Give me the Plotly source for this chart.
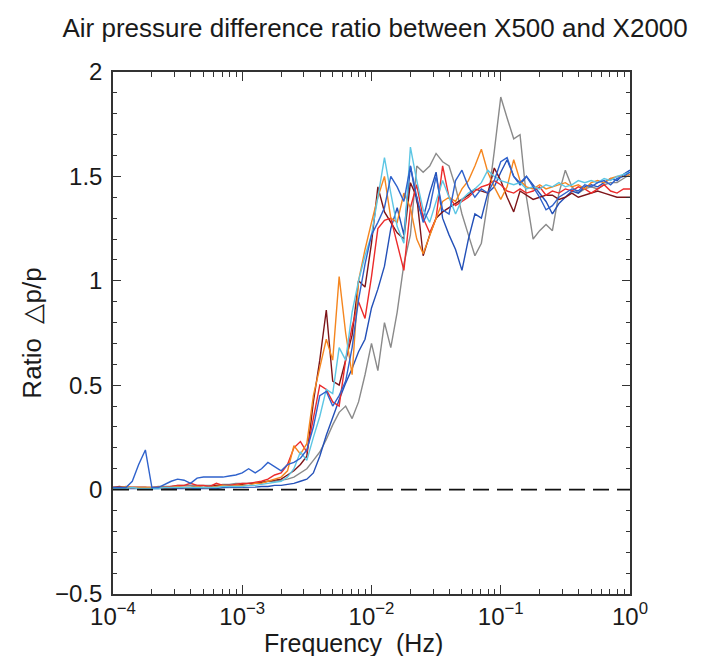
import plotly.graph_objects as go

#-----------------------------------------------------------------------
# data (frequency grid every 0.05 decade)
#-----------------------------------------------------------------------
FREQ = [
    1.00e-4, 1.12e-4, 1.26e-4, 1.41e-4, 1.58e-4, 1.78e-4, 2.00e-4, 2.24e-4, 2.51e-4, 2.82e-4,
    3.16e-4, 3.55e-4, 3.98e-4, 4.47e-4, 5.01e-4, 5.62e-4, 6.31e-4, 7.08e-4, 7.94e-4, 8.91e-4,
    1.00e-3, 1.12e-3, 1.26e-3, 1.41e-3, 1.58e-3, 1.78e-3, 2.00e-3, 2.24e-3, 2.51e-3, 2.82e-3,
    3.16e-3, 3.55e-3, 3.98e-3, 4.47e-3, 5.01e-3, 5.62e-3, 6.31e-3, 7.08e-3, 7.94e-3, 8.91e-3,
    1.00e-2, 1.12e-2, 1.26e-2, 1.41e-2, 1.58e-2, 1.78e-2, 2.00e-2, 2.24e-2, 2.51e-2, 2.82e-2,
    3.16e-2, 3.55e-2, 3.98e-2, 4.47e-2, 5.01e-2, 5.62e-2, 6.31e-2, 7.08e-2, 7.94e-2, 8.91e-2,
    1.00e-1, 1.12e-1, 1.26e-1, 1.41e-1, 1.58e-1, 1.78e-1, 2.00e-1, 2.24e-1, 2.51e-1, 2.82e-1,
    3.16e-1, 3.55e-1, 3.98e-1, 4.47e-1, 5.01e-1, 5.62e-1, 6.31e-1, 7.08e-1, 7.94e-1, 8.91e-1,
    1.00,
]

GRAY = [
    0.01, 0.01, 0.01, 0.01, 0.01, 0.01, 0.01, 0.015, 0.015, 0.015,
    0.02, 0.02, 0.02, 0.02, 0.02, 0.02, 0.02, 0.025, 0.025, 0.03,
    0.03, 0.03, 0.03, 0.035, 0.04, 0.04, 0.045, 0.05, 0.06, 0.08,
    0.10, 0.14, 0.18, 0.24, 0.31, 0.37, 0.40, 0.34, 0.42, 0.55,
    0.70, 0.57, 0.80, 0.68, 0.85, 1.08, 1.22, 1.55, 1.52, 1.55,
    1.61, 1.57, 1.55, 1.45, 1.32, 1.22, 1.12, 1.18, 1.38, 1.62,
    1.88, 1.78, 1.68, 1.70, 1.40, 1.20, 1.24, 1.27, 1.24, 1.42,
    1.53, 1.45, 1.42, 1.44, 1.45, 1.44, 1.46, 1.47, 1.47, 1.49,
    1.51,
]

DARK_RED = [
    0.01, 0.015, 0.01, 0.01, 0.01, 0.01, 0.005, 0.01, 0.01, 0.01,
    0.01, 0.01, 0.01, 0.015, 0.01, 0.015, 0.02, 0.02, 0.02, 0.02,
    0.025, 0.03, 0.03, 0.035, 0.04, 0.045, 0.05, 0.07, 0.09, 0.12,
    0.16, 0.42, 0.62, 0.86, 0.52, 0.50, 0.62, 0.74, 1.00, 0.97,
    1.18, 1.45, 1.33, 1.28, 1.23, 1.20, 1.47, 1.40, 1.12, 1.22,
    1.30, 1.33, 1.35, 1.37, 1.39, 1.41, 1.44, 1.43, 1.42, 1.54,
    1.48, 1.40, 1.33, 1.43, 1.41, 1.39, 1.40, 1.41, 1.41, 1.39,
    1.40, 1.42, 1.40, 1.41, 1.42, 1.43, 1.42, 1.41, 1.40, 1.40,
    1.40,
]

RED = [
    0.01, 0.01, 0.01, 0.01, 0.01, 0.01, 0.01, 0.01, 0.01, 0.015,
    0.02, 0.02, 0.03, 0.02, 0.02, 0.015, 0.03, 0.02, 0.02, 0.025,
    0.03, 0.03, 0.035, 0.04, 0.05, 0.07, 0.08, 0.12, 0.20, 0.23,
    0.18, 0.35, 0.50, 0.48, 0.42, 0.40, 0.62, 0.78, 0.90, 0.82,
    1.02, 1.25, 1.29, 1.30, 1.18, 1.05, 1.35, 1.46, 1.30, 1.23,
    1.30, 1.55, 1.40, 1.36, 1.38, 1.40, 1.43, 1.45, 1.46, 1.48,
    1.46, 1.43, 1.42, 1.44, 1.42, 1.43, 1.45, 1.41, 1.43, 1.42,
    1.44, 1.43, 1.45, 1.44, 1.42, 1.44, 1.46, 1.43, 1.42, 1.44,
    1.44,
]

ORANGE = [
    0.01, 0.01, 0.015, 0.01, 0.01, 0.01, 0.01, 0.01, 0.01, 0.01,
    0.015, 0.01, 0.01, 0.015, 0.01, 0.01, 0.015, 0.02, 0.015, 0.02,
    0.02, 0.02, 0.03, 0.03, 0.04, 0.05, 0.06, 0.09, 0.21, 0.17,
    0.22, 0.45, 0.58, 0.72, 0.62, 1.02, 0.75, 0.55, 1.00, 1.15,
    1.28, 1.40, 1.50, 1.30, 1.28, 1.42, 1.35, 1.20, 1.13, 1.22,
    1.30, 1.38, 1.40, 1.38, 1.44, 1.48, 1.55, 1.63, 1.52, 1.45,
    1.39, 1.45, 1.58, 1.48, 1.45, 1.44, 1.46, 1.44, 1.45, 1.46,
    1.47, 1.45, 1.46, 1.44, 1.47, 1.48, 1.47, 1.49, 1.50, 1.50,
    1.51,
]

CYAN = [
    0.005, 0.005, 0.005, 0.01, 0.005, 0.005, 0.005, 0.005, 0.01, 0.01,
    0.01, 0.01, 0.01, 0.01, 0.01, 0.01, 0.01, 0.015, 0.015, 0.015,
    0.015, 0.02, 0.02, 0.025, 0.03, 0.035, 0.04, 0.06, 0.10, 0.18,
    0.14, 0.25, 0.35, 0.48, 0.46, 0.68, 0.62, 0.85, 1.00, 1.12,
    1.22, 1.40, 1.59, 1.42, 1.26, 1.18, 1.64, 1.48, 1.34, 1.28,
    1.38, 1.48, 1.40, 1.32, 1.39, 1.42, 1.44, 1.47, 1.53, 1.50,
    1.48, 1.47, 1.46, 1.47, 1.44, 1.45, 1.44, 1.46, 1.45, 1.47,
    1.45, 1.46, 1.48, 1.47, 1.48, 1.47, 1.49, 1.48, 1.50, 1.51,
    1.52,
]

BLUE = [
    0.01, 0.01, 0.01, 0.04, 0.12, 0.19, 0.01, 0.01, 0.025, 0.04,
    0.05, 0.045, 0.03, 0.055, 0.06, 0.06, 0.06, 0.06, 0.065, 0.07,
    0.08, 0.10, 0.08, 0.10, 0.13, 0.11, 0.09, 0.12, 0.13, 0.15,
    0.19, 0.30, 0.45, 0.47, 0.40, 0.45, 0.52, 0.68, 0.91, 1.08,
    1.22, 1.28, 1.35, 1.50, 1.45, 1.38, 1.55, 1.40, 1.28, 1.35,
    1.50, 1.34, 1.32, 1.48, 1.53, 1.45, 1.40, 1.44, 1.42, 1.48,
    1.57, 1.59, 1.50, 1.47, 1.50, 1.45, 1.40, 1.34, 1.36, 1.40,
    1.42, 1.44, 1.43, 1.46, 1.45, 1.47, 1.48, 1.46, 1.49, 1.50,
    1.52,
]

NAVY = [
    0.005, 0.005, 0.005, 0.005, 0.005, 0.005, 0.005, 0.005, 0.005, 0.005,
    0.005, 0.005, 0.005, 0.005, 0.005, 0.005, 0.005, 0.01, 0.01, 0.01,
    0.01, 0.01, 0.012, 0.015, 0.015, 0.02, 0.02, 0.025, 0.03, 0.04,
    0.05, 0.08, 0.16, 0.26, 0.35, 0.43, 0.51, 0.58, 0.66, 0.72,
    0.87, 0.96, 1.07, 1.25, 1.35, 1.22, 1.55, 1.38, 1.30, 1.42,
    1.52, 1.30, 1.22, 1.15, 1.05, 1.20, 1.32, 1.30, 1.42, 1.45,
    1.52, 1.58, 1.50, 1.46, 1.50, 1.46, 1.42, 1.38, 1.32, 1.37,
    1.40, 1.43, 1.42, 1.45, 1.46, 1.45, 1.47, 1.49, 1.48, 1.51,
    1.53,
]

X_TICKS = [1e-4, 1e-3, 1e-2, 1e-1, 1]
X_TICK_TEXT = ["10<sup>\u22124</sup>", "10<sup>\u22123</sup>", "10<sup>\u22122</sup>",
               "10<sup>\u22121</sup>", "10<sup>0</sup>"]
Y_TICKS = [-0.5, 0, 0.5, 1, 1.5, 2]
Y_TICK_TEXT = ["\u22120.5", "0", "0.5", "1", "1.5", "2"]

FONT = "Liberation Sans, Arial, Helvetica, sans-serif"
INK = "#1a1a1a"


def main():
    fig = go.Figure()

    series = [
        (GRAY, "#8a8a8a"),
        (NAVY, "#2350b8"),
        (DARK_RED, "#7d1418"),
        (RED, "#ec2a2a"),
        (ORANGE, "#f5861f"),
        (CYAN, "#5cc6e4"),
        (BLUE, "#2f62cc"),
    ]
    for vals, col in series:
        fig.add_trace(go.Scatter(x=FREQ, y=vals, mode="lines",
                                 line=dict(color=col, width=1.4),
                                 showlegend=False, hoverinfo="skip"))

    # dashed zero line
    fig.add_hline(y=0, line=dict(color="#111111", width=1.6, dash="16px,8px"))

    minor_x = [k * 10.0 ** e for e in range(-4, 0) for k in range(2, 10)]

    # page body adds an 8px margin, so the figure is a bit smaller than the window
    fig.update_layout(
        width=698, height=648,
        margin=dict(l=105, r=76, t=64, b=62, autoexpand=False),
        paper_bgcolor="white", plot_bgcolor="white",
        font=dict(family=FONT, size=24, color=INK),
        title=dict(text="Air pressure difference ratio between X500 and X2000",
                   x=0.507, xref="paper", xanchor="center",
                   y=0.969, yref="container", yanchor="middle",
                   font=dict(family=FONT, size=26, color=INK)),
    )

    # x title as an annotation so it sits just under the tick labels
    fig.add_annotation(text="Frequency  (Hz)", xref="paper", yref="paper",
                       x=(353 - 113) / 517, y=-0.093, xanchor="center", yanchor="middle",
                       showarrow=False, font=dict(family=FONT, size=25, color=INK))

    fig.update_xaxes(
        type="log", range=[-4, 0],
        tickvals=X_TICKS, ticktext=X_TICK_TEXT,
        ticks="inside", ticklen=9, tickwidth=1.2, tickcolor="#333",
        minor=dict(tickvals=minor_x, ticks="inside", ticklen=5,
                   tickwidth=1.1, tickcolor="#333", showgrid=False),
        showline=True, linecolor="#333", linewidth=1.5, mirror="ticks",
        showgrid=False, zeroline=False, ticklabelstandoff=0,
    )
    fig.update_yaxes(
        range=[-0.5, 2],
        tickvals=Y_TICKS, ticktext=Y_TICK_TEXT,
        ticks="inside", ticklen=8, tickwidth=1.2, tickcolor="#333",
        minor=dict(dtick=0.1, ticks="inside", ticklen=4,
                   tickwidth=1.1, tickcolor="#333", showgrid=False),
        showline=True, linecolor="#333", linewidth=1.5, mirror="ticks",
        showgrid=False, zeroline=False, ticklabelstandoff=4,
        title=dict(text="Ratio  \u25b3p/p", standoff=6,
                   font=dict(family=FONT, size=26, color=INK)),
    )

    fig.write_html("out.html")


if __name__ == "__main__":
    main()
